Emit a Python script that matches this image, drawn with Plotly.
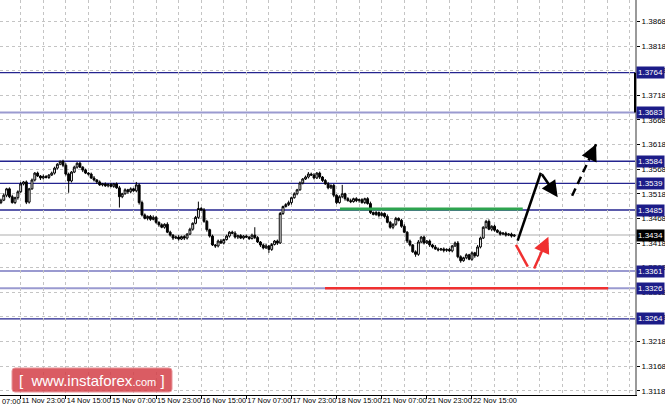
import plotly.graph_objects as go

# price data, in pips above BASE (hourly candles)
BASE = 1.3400
first_open = 100
closes = [105, 115, 128, 112, 100, 110, 122, 138, 142, 101,
          128, 146, 160, 154, 150, 153, 151, 156, 160, 170,
          178, 184, 176, 158, 144, 162, 172, 180, 172, 166,
          160, 158, 150, 146, 142, 136, 138, 134, 137, 133,
          138, 130, 112, 118, 126, 122, 128, 124, 136, 100,
          75, 68, 72, 66, 70, 60, 55, 50, 56, 40,
          34, 28, 30, 26, 31, 28, 36, 46, 58, 70,
          88, 85, 62, 45, 32, 14, 12, 22, 18, 25,
          32, 40, 38, 30, 33, 28, 32, 30, 27, 34,
          29, 20, 14, 8, 12, 5, 15, 22, 18, 78,
          92, 96, 100, 110, 118, 126, 140, 148, 152, 158,
          156, 150, 160, 152, 145, 138, 130, 135, 115, 100,
          112, 118, 108, 104, 102, 108, 104, 106, 100, 108,
          98, 80, 76, 80, 74, 78, 72, 60, 50, 56,
          68, 64, 52, 40, 22, 14, 0, -5, 20, 30,
          18, 22, 14, 10, 6, 4, 6, 3, 5, 2,
          12, 18, -10, -18, -12, -6, -15, -2, -8, 10,
          28, 50, 62, 46, 52, 44, 40, 36, 38, 34,
          36, 32, 34]
wick_up = [3, 4, 2, 3, 4, 2, 3, 4, 2, 3,
           2, 3, 2, 3, 2, 4, 3, 2, 3, 3,
           2, 1, 3, 4, 3, 2, 3, 2, 3, 2,
           3, 2, 3, 4, 2, 3, 2, 3, 2, 3,
           2, 3, 4, 2, 3, 2, 3, 2, 6, 3,
           4, 3, 2, 3, 4, 3, 2, 3, 2, 4,
           3, 2, 3, 4, 2, 3, 2, 3, 2, 3,
           14, 3, 4, 3, 2, 3, 2, 3, 4, 2,
           3, 2, 3, 4, 2, 3, 2, 3, 2, 3,
           16, 3, 2, 3, 4, 2, 3, 2, 3, 3,
           2, 3, 4, 2, 3, 2, 3, 2, 3, 4,
           3, 4, 2, 3, 2, 3, 4, 2, 3, 2,
           3, 18, 2, 3, 4, 2, 3, 2, 3, 2,
           3, 4, 2, 3, 2, 3, 2, 4, 3, 2,
           3, 2, 3, 4, 2, 3, 2, 3, 4, 2,
           3, 2, 3, 2, 4, 3, 2, 3, 2, 3,
           2, 3, 4, 3, 2, 3, 2, 3, 2, 4,
           3, 2, 3, 4, 2, 3, 2, 3, 2, 3,
           2, 3, 2]
wick_dn = [3, 2, 4, 3, 2, 3, 4, 2, 3, 4,
           3, 2, 3, 2, 4, 3, 2, 3, 2, 3,
           3, 2, 4, 3, 24, 3, 2, 3, 2, 4,
           2, 3, 2, 3, 4, 2, 3, 2, 3, 2,
           3, 2, 22, 3, 2, 4, 3, 2, 3, 4,
           3, 2, 4, 3, 2, 3, 4, 2, 3, 2,
           3, 4, 2, 3, 2, 4, 3, 2, 3, 2,
           3, 2, 3, 4, 3, 2, 4, 3, 2, 3,
           2, 3, 2, 3, 4, 2, 3, 2, 3, 2,
           3, 2, 4, 3, 2, 7, 3, 2, 4, 2,
           3, 2, 3, 4, 2, 3, 2, 3, 2, 3,
           2, 3, 2, 4, 3, 2, 3, 2, 4, 3,
           2, 3, 4, 2, 3, 2, 3, 4, 2, 3,
           2, 3, 2, 3, 4, 2, 3, 2, 3, 4,
           3, 2, 3, 2, 4, 3, 2, 5, 3, 2,
           3, 2, 4, 3, 2, 3, 2, 4, 3, 2,
           3, 2, 3, 4, 2, 3, 2, 3, 4, 2,
           3, 2, 3, 2, 4, 3, 2, 3, 2, 3,
           2, 3, 2]

# time axis labels (every 16 bars)
time_ticks = [7, 23, 39, 55, 71, 87, 103, 119, 135, 151, 167]
time_labels = ["11 Nov 23:00", "14 Nov 15:00", "15 Nov 07:00", "15 Nov 23:00",
               "16 Nov 15:00", "17 Nov 07:00", "17 Nov 23:00", "18 Nov 15:00",
               "21 Nov 07:00", "21 Nov 23:00", "22 Nov 15:00"]

price_ticks = [1.3118, 1.3168, 1.3218, 1.3268, 1.3318, 1.3368, 1.3418, 1.3468,
               1.3518, 1.3568, 1.3618, 1.3668, 1.3718, 1.3768, 1.3818, 1.3868]

# support / resistance levels
levels = [1.3764, 1.3683, 1.3584, 1.3539, 1.3485, 1.3361, 1.3326, 1.3264]
faint_levels = [1.3683, 1.3361, 1.3326]
current_price = 1.3434

# target lines (bar index, price)
green_x = [120.2, 185]
green_y = [1.3487, 1.3487]
red_x = [114.9, 215.3]
red_y = [1.3326, 1.3326]

# forecast arrows
black_path_x = [183.2, 191.4, 197.4]
black_path_y = [1.34227, 1.35607, 1.35108]
black_dash_x = [202.5, 211.0]
black_dash_y = [1.35140, 1.36184]
red_path_x = [182.6, 186.8]
red_path_y = [1.34140, 1.33699]
red_arrow_x = [188.8, 194.1]
red_arrow_y = [1.33632, 1.34308]

opens = [first_open] + closes[:-1]
highs = [max(o, c) + w for o, c, w in zip(opens, closes, wick_up)]
lows = [min(o, c) - w for o, c, w in zip(opens, closes, wick_dn)]
to_price = lambda vals: [BASE + v / 10000 for v in vals]
bars = list(range(len(closes)))

NAVY = "#24248f"
FAINT = "#9a9ad0"
GRID = "#c4c4c4"
FONT = "Liberation Sans"

fig = go.Figure()

fig.add_trace(go.Candlestick(
    x=bars, open=to_price(opens), high=to_price(highs),
    low=to_price(lows), close=to_price(closes),
    increasing=dict(line=dict(color="black", width=1), fillcolor="white"),
    decreasing=dict(line=dict(color="black", width=1), fillcolor="black"),
    hoverinfo="skip", showlegend=False
))

# horizontal levels
for lv in levels:
    faint = lv in faint_levels
    fig.add_shape(type="line", xref="paper", x0=0, x1=1, y0=lv, y1=lv,
                  line=dict(color=FAINT if faint else NAVY, width=2 if faint else 1.3),
                  layer="below")
fig.add_shape(type="line", xref="paper", x0=0, x1=1, y0=current_price, y1=current_price,
              line=dict(color="#d6d6d6", width=2), layer="below")

fig.add_trace(go.Scatter(x=green_x, y=green_y, mode="lines",
                         line=dict(color="#2ea44f", width=3), hoverinfo="skip", showlegend=False))
fig.add_trace(go.Scatter(x=red_x, y=red_y, mode="lines",
                         line=dict(color="#f03030", width=2.5), hoverinfo="skip", showlegend=False))

# forecast arrows
fig.add_trace(go.Scatter(x=black_path_x[:2], y=black_path_y[:2], mode="lines",
                         line=dict(color="black", width=2.5), hoverinfo="skip", showlegend=False))
fig.add_trace(go.Scatter(x=black_dash_x, y=black_dash_y, mode="lines",
                         line=dict(color="black", width=2.5, dash="8px,5px"),
                         hoverinfo="skip", showlegend=False))
fig.add_trace(go.Scatter(x=red_path_x, y=red_path_y, mode="lines",
                         line=dict(color="#f03030", width=2.5), hoverinfo="skip", showlegend=False))

arrows = [
    (black_path_x[1], black_path_y[1], black_path_x[2], black_path_y[2], "black"),
    (black_dash_x[0] + 0.8 * (black_dash_x[1] - black_dash_x[0]),
     black_dash_y[0] + 0.8 * (black_dash_y[1] - black_dash_y[0]),
     black_dash_x[1], black_dash_y[1], "black"),
    (red_arrow_x[0], red_arrow_y[0], red_arrow_x[1], red_arrow_y[1], "#f03030"),
]
for ax, ay, x, y, col in arrows:
    fig.add_annotation(x=x, y=y, ax=ax, ay=ay, xref="x", yref="y", axref="x", ayref="y",
                       text="", showarrow=True, arrowhead=2, arrowsize=1.3,
                       arrowwidth=2.5, arrowcolor=col, standoff=0)

# price boxes on the right scale
for lv in levels + [current_price]:
    fig.add_annotation(x=1, y=lv, xref="paper", yref="y", xanchor="left", xshift=1,
                       text=f"{lv:.4f}", showarrow=False,
                       bgcolor="black" if lv == current_price else "#1c1c88",
                       font=dict(color="white", size=8, family=FONT), borderpad=1)

# dark segment on price scale
fig.add_shape(type="line", xref="paper", x0=1, x1=1, y0=1.3683, y1=1.3764,
              line=dict(color="black", width=2))

# clipped first time label
fig.add_annotation(x=0, y=0, xref="paper", yref="paper", xanchor="left", yanchor="top",
                   yshift=0, text="07:00", showarrow=False,
                   font=dict(size=7.4, family=FONT, color="black"))

# watermark
x0, x1, y0, y1 = 12 / 635, 172 / 635, 1 - 392 / 395, 1 - 368 / 395
rx, ry = 3 / 635, 3 / 395
wm_path = (f"M {x0+rx} {y0} L {x1-rx} {y0} Q {x1} {y0} {x1} {y0+ry} "
           f"L {x1} {y1-ry} Q {x1} {y1} {x1-rx} {y1} L {x0+rx} {y1} "
           f"Q {x0} {y1} {x0} {y1-ry} L {x0} {y0+ry} Q {x0} {y0} {x0+rx} {y0} Z")
fig.add_shape(type="path", xref="paper", yref="paper", path=wm_path,
              fillcolor="rgba(212,64,72,0.85)", line=dict(color="rgba(232,150,155,1)", width=1))
fig.add_annotation(x=(x0 + x1) / 2, y=(y0 + y1) / 2, xref="paper", yref="paper",
                   xanchor="center", yanchor="middle",
                   text="[  www.instaforex<span style='font-size:11px'>.com</span> ]",
                   showarrow=False, font=dict(color="white", size=15, family=FONT))

fig.update_layout(
    width=665, height=405,
    margin=dict(l=0, r=30, t=0, b=10),
    template="none",
    paper_bgcolor="white", plot_bgcolor="white",
    showlegend=False,
    boxgap=0.05,
    font=dict(family=FONT, size=8, color="black"),
    xaxis=dict(
        range=[-0.34, 224.8], rangeslider=dict(visible=False),
        tickmode="array", tickvals=time_ticks, ticktext=time_labels, tickangle=0,
        ticklabelposition="outside right", ticks="outside", ticklen=3, tickcolor="black",
        ticklabelstandoff=-2,
        tickfont=dict(size=7.4, family=FONT),
        showgrid=True, gridcolor=GRID, griddash="3px,3px", gridwidth=1,
        minor=dict(tick0=-1, dtick=8, showgrid=True, gridcolor=GRID, griddash="3px,3px", ticks=""),
        showline=True, linecolor="black", linewidth=1, zeroline=False, automargin=False,
        fixedrange=True,
    ),
    yaxis=dict(
        side="right", range=[1.31093, 1.39115],
        tickmode="array", tickvals=price_ticks, tickformat=".4f",
        ticks="outside", ticklen=3, tickcolor="black",
        tickfont=dict(size=8, family=FONT),
        showgrid=True, gridcolor=GRID, griddash="3px,3px", gridwidth=1,
        showline=True, linecolor="#9a9a9a", linewidth=2, zeroline=False, automargin=False,
        fixedrange=True,
    ),
)

fig.write_html("out.html", config={"displayModeBar": False},
               post_script="document.body.style.margin='0';document.body.style.overflow='hidden';")
